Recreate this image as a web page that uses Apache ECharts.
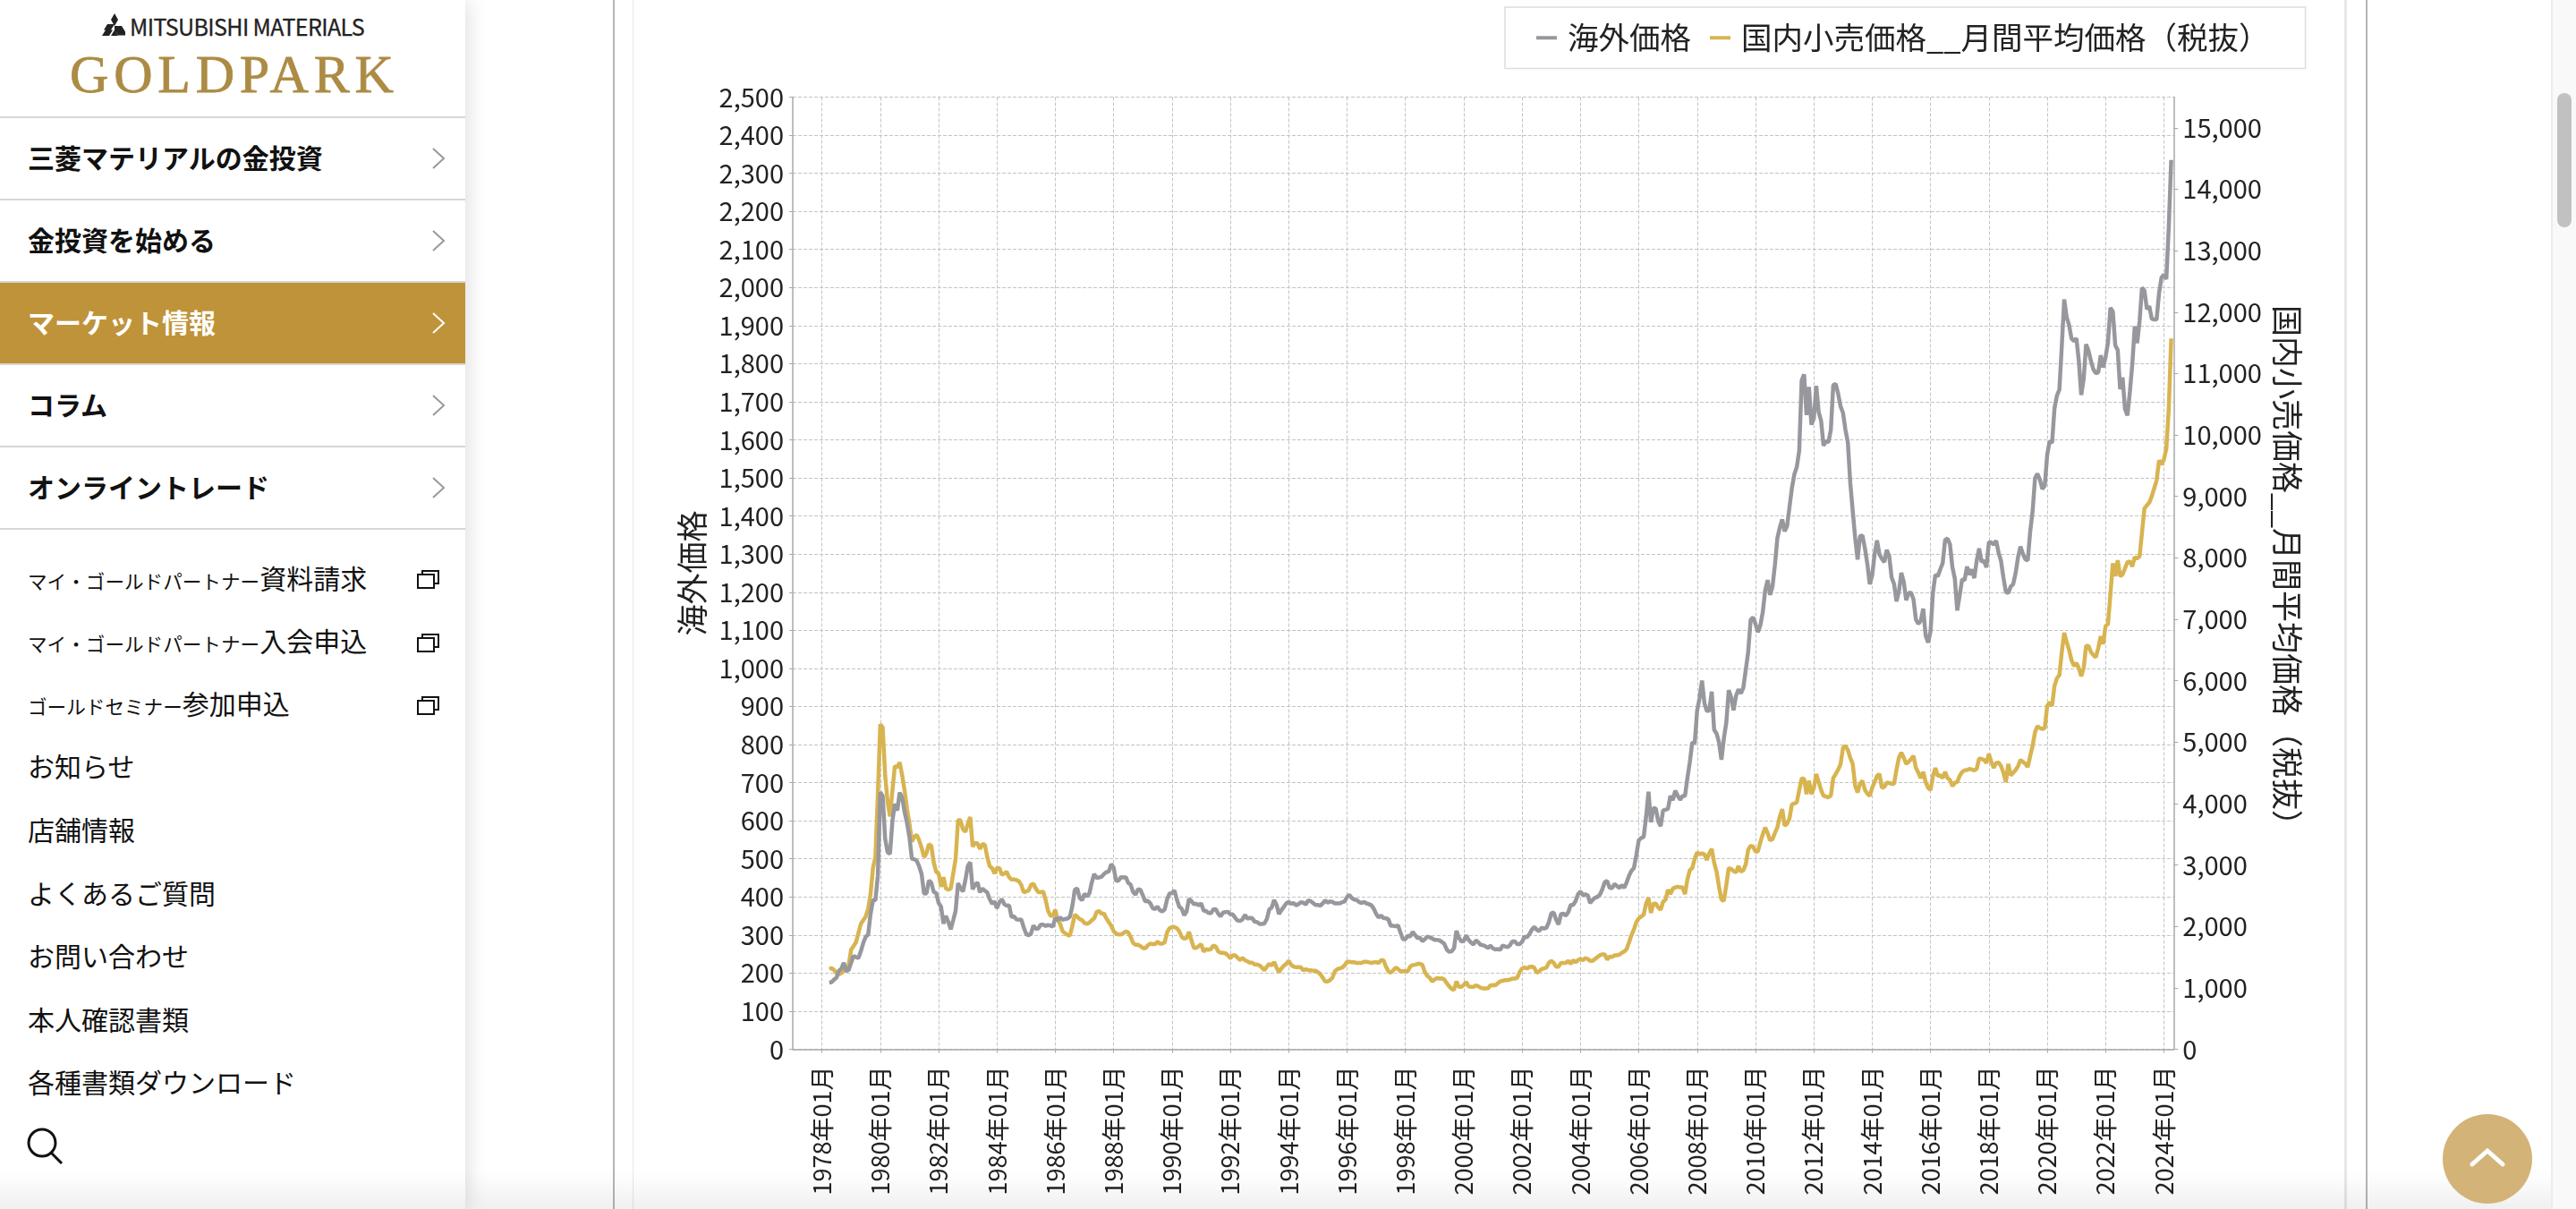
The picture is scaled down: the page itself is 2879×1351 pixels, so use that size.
<!DOCTYPE html>
<html lang="ja">
<head>
<meta charset="utf-8">
<title>金価格推移</title>
<script src="https://cdn.jsdelivr.net/npm/echarts@6/dist/echarts.min.js"></script>
<style>
  html,body{margin:0;padding:0;width:2879px;height:1351px;overflow:hidden;background:#fff;
    font-family:"Noto Sans CJK JP","Noto Sans",sans-serif;color:#111;}
  #chart{position:absolute;left:700px;top:0;width:1920px;height:1351px;}
  .vline{position:absolute;top:0;bottom:0;}
  #side{position:absolute;left:0;top:0;width:520px;height:1351px;background:#fff;box-shadow:0 0 24px rgba(0,0,0,.16);}
  .brand{position:absolute;left:145px;top:12px;font-size:25px;line-height:34px;color:#222;letter-spacing:-.6px;white-space:nowrap;-webkit-text-stroke:.3px #222;}
  .gold{position:absolute;left:78px;top:47px;font-family:"Liberation Serif",serif;font-size:60px;line-height:72px;color:#ac8b44;letter-spacing:5.8px;-webkit-text-stroke:.8px #ac8b44;}
  .row{position:absolute;left:0;width:520px;height:92px;line-height:87px;padding-left:31px;box-sizing:border-box;
    font-size:30px;font-weight:700;border-bottom:2px solid #d6d6d6;}
  .row.on{background:#bf9339;color:#fff;}
  .row svg{position:absolute;left:482px;top:33px;}
  .sub{position:absolute;left:31px;font-size:30px;line-height:40px;white-space:nowrap;}
  .sub small{font-size:21.6px;}
  .ext{position:absolute;left:466px;}
  #fade{position:absolute;left:0;right:0;bottom:0;height:42px;background:linear-gradient(rgba(0,0,0,0),rgba(0,0,0,.06));}
  #track{position:absolute;left:2851px;top:0;width:28px;height:1351px;background:#f9f9f9;border-left:2px solid #ececec;box-sizing:border-box;}
  #thumb{position:absolute;left:2858px;top:104px;width:16px;height:150px;border-radius:8px;background:#c1c1c1;}
  #totop{position:absolute;left:2730px;top:1245px;width:100px;height:100px;border-radius:50%;background:#d3b378;}
</style>
</head>
<body>
<div class="vline" style="left:685px;width:2px;background:#b5b5b5"></div>
<div class="vline" style="left:707px;width:1px;background:#e8e8e8"></div>
<div class="vline" style="left:2620px;width:3px;background:#e8e8e8"></div>
<div class="vline" style="left:2644px;width:2px;background:#b5b5b5"></div>
<div id="chart"></div>
<div id="side">
  <svg style="position:absolute;left:114px;top:15px" width="28" height="25" viewBox="0 0 28 25"><path d="M14 0l4 7-4 7-4-7zM6 12h8l-4 6.500H2zM14 14h8l4 6.500-0 4H18l-4-6zM0 25l4-6.500h8L8 25zM14 18.500L10 25h8z" fill="#222"/></svg>
  <div class="brand">MITSUBISHI MATERIALS</div>
  <div class="gold">GOLDPARK</div>
  <div style="position:absolute;left:0;top:130px;width:520px;height:2px;background:#d6d6d6"></div>
  <div class="row" style="top:132px">三菱マテリアルの金投資<svg width="16" height="24" fill="none" stroke="#999" stroke-width="2"><path d="M2 1l12 11L2 23"/></svg></div>
  <div class="row" style="top:224px">金投資を始める<svg width="16" height="24" fill="none" stroke="#999" stroke-width="2"><path d="M2 1l12 11L2 23"/></svg></div>
  <div class="row on" style="top:316px">マーケット情報<svg width="16" height="24" fill="none" stroke="#fff" stroke-width="2"><path d="M2 1l12 11L2 23"/></svg></div>
  <div class="row" style="top:408px">コラム<svg width="16" height="24" fill="none" stroke="#999" stroke-width="2"><path d="M2 1l12 11L2 23"/></svg></div>
  <div class="row" style="top:500px">オンライントレード<svg width="16" height="24" fill="none" stroke="#999" stroke-width="2"><path d="M2 1l12 11L2 23"/></svg></div>
  <div class="sub" style="top:625px"><small>マイ・ゴールドパートナー</small>資料請求</div>
  <div class="sub" style="top:695px"><small>マイ・ゴールドパートナー</small>入会申込</div>
  <div class="sub" style="top:765px"><small>ゴールドセミナー</small>参加申込</div>
  <svg class="ext" style="top:637px" width="25" height="21" fill="none" stroke="#111" stroke-width="2"><path d="M6 5V1h18v14h-5M1 5h18v15H1z"/></svg>
  <svg class="ext" style="top:708px" width="25" height="21" fill="none" stroke="#111" stroke-width="2"><path d="M6 5V1h18v14h-5M1 5h18v15H1z"/></svg>
  <svg class="ext" style="top:778px" width="25" height="21" fill="none" stroke="#111" stroke-width="2"><path d="M6 5V1h18v14h-5M1 5h18v15H1z"/></svg>
  <div class="sub" style="top:835px">お知らせ</div>
  <div class="sub" style="top:906px">店舗情報</div>
  <div class="sub" style="top:977px">よくあるご質問</div>
  <div class="sub" style="top:1047px">お問い合わせ</div>
  <div class="sub" style="top:1118px">本人確認書類</div>
  <div class="sub" style="top:1188px">各種書類ダウンロード</div>
  <svg style="position:absolute;left:29px;top:1259px" width="42" height="42" fill="none" stroke="#111" stroke-width="3"><circle cx="18" cy="18" r="15"/><path d="M28 29l12 12"/></svg>
</div>
<div id="fade"></div>
<div id="track"></div>
<div id="thumb"></div>
<div id="totop"><svg width="100" height="100" fill="none" stroke="#fff" stroke-width="5" stroke-linecap="round"><path d="M33 56l17-15 17 15"/></svg></div>
<script>
  // 1977-01 .. 2024-05 on the axis, the series start at 1978-04 and end at 2024-04
  const firstYear = 1977
  const lastYear = 2024
  const lastMonth = 5
  const leadingBlank = 15
  const overseasName = '海外価格'
  const domesticName = '国内小売価格__月間平均価格（税抜）'

  const overseas = [
    175,176,183,188,206,212,227,206,208,
    227,245,242,239,257,279,295,301,355,391,392,456,
    675,665,553,517,513,600,644,627,674,661,623,594,
    557,500,499,495,480,460,409,409,443,437,413,410,
    384,374,330,350,334,315,339,364,436,423,414,444,
    481,491,420,432,438,412,422,416,412,394,382,388,
    370,386,394,381,377,378,347,349,341,340,341,320,
    303,299,304,325,316,317,327,327,324,326,325,322,
    345,339,346,340,342,343,348,376,418,423,398,391,
    408,401,409,438,460,450,451,453,460,465,467,486,
    477,442,443,452,451,452,437,432,413,406,420,419,
    404,388,390,384,371,368,375,365,362,367,394,409,
    410,417,393,374,369,352,362,395,389,381,382,378,
    383,364,363,358,357,367,368,356,349,359,360,361,
    354,354,345,338,337,341,353,343,345,344,335,334,
    329,329,330,342,367,372,392,379,355,365,374,383,
    387,382,384,378,381,386,385,380,391,389,384,379,
    379,377,383,391,385,388,387,383,383,383,386,388,
    400,405,397,393,392,386,384,387,383,381,378,369,
    355,346,351,344,344,341,324,324,323,325,306,289,
    289,298,296,308,300,292,293,284,289,296,294,291,
    287,287,286,282,277,262,256,257,265,311,293,283,
    284,299,287,280,275,286,281,274,273,270,266,272,
    265,262,263,261,272,270,268,273,283,283,276,276,
    282,296,294,302,314,321,314,310,319,317,319,333,
    357,359,340,328,355,356,351,360,379,379,389,407,
    414,405,407,404,384,392,398,400,406,420,439,442,
    424,423,434,429,423,431,424,438,456,469,476,510,
    549,555,557,610,676,596,633,632,598,586,627,629,
    631,665,654,679,666,655,665,665,712,754,806,803,
    889,922,968,909,888,889,939,839,829,806,760,816,
    858,943,924,890,928,945,934,949,996,1043,1127,1134,
    1117,1095,1113,1148,1205,1232,1193,1215,1271,1342,1370,1391,
    1360,1374,1424,1474,1510,1529,1572,1756,1772,1665,1739,1640,
    1656,1742,1673,1650,1585,1596,1594,1626,1744,1747,1721,1688,
    1671,1627,1593,1487,1414,1343,1286,1347,1349,1316,1275,1221,
    1244,1300,1336,1299,1288,1279,1311,1295,1239,1222,1176,1202,
    1251,1227,1179,1198,1199,1181,1128,1117,1125,1157,1086,1068,
    1097,1199,1246,1242,1260,1276,1337,1341,1326,1266,1236,1152,
    1192,1234,1231,1267,1246,1260,1237,1283,1315,1280,1283,1265,
    1331,1331,1325,1335,1304,1282,1238,1201,1198,1215,1221,1250,
    1292,1320,1301,1286,1284,1359,1413,1500,1511,1495,1471,1480,
    1561,1597,1592,1683,1716,1732,1846,1969,1922,1901,1866,1859,
    1867,1808,1718,1760,1851,1834,1807,1785,1775,1777,1822,1790,
    1817,1856,1947,1937,1848,1836,1733,1764,1681,1664,1726,1798,
    1898,1854,1912,2000,1992,1943,1951,1918,1916,1916,1985,2026,
    2034,2022,2159,2335
  ]

  const domestic = [
    1310,1320,1290,1240,1220,1240,1270,1290,1370,
    1620,1680,1740,1890,2040,2100,2160,2280,2525,2950,3130,4150,
    5290,5240,4460,4035,3790,4215,4610,4590,4670,4460,4215,3915,
    3670,3380,3460,3490,3400,3280,3130,3190,3340,3310,3040,2890,
    2860,2645,2800,2615,2600,2615,2860,3100,3730,3730,3580,3540,
    3670,3780,3300,3360,3350,3260,3340,3330,3130,2980,2950,2860,
    2950,2950,2840,2860,2890,2800,2765,2765,2755,2735,2675,2555,
    2570,2585,2675,2695,2615,2555,2555,2570,2435,2255,2175,2175,
    2270,2100,2040,1920,1890,1860,1850,2010,2190,2160,2120,2100,
    2055,2040,2060,2100,2130,2235,2250,2205,2210,2130,2070,2010,
    1920,1880,1870,1870,1890,1920,1900,1830,1730,1700,1700,1680,
    1650,1640,1690,1720,1710,1710,1750,1720,1720,1740,1910,1970,
    1990,1990,1970,1920,1830,1800,1810,1910,1770,1650,1650,1680,
    1710,1590,1630,1620,1630,1690,1670,1590,1570,1570,1560,1530,
    1480,1530,1530,1490,1450,1490,1450,1430,1410,1410,1380,1380,
    1365,1330,1285,1345,1390,1365,1420,1330,1255,1315,1360,1390,
    1440,1375,1345,1335,1335,1335,1285,1305,1285,1285,1280,1280,
    1255,1225,1165,1105,1105,1125,1165,1270,1305,1315,1330,1365,
    1425,1425,1415,1415,1405,1405,1405,1425,1425,1415,1405,1415,
    1420,1405,1450,1450,1345,1270,1245,1285,1330,1305,1270,1270,
    1270,1270,1345,1370,1375,1390,1390,1375,1255,1195,1165,1105,
    1135,1160,1150,1155,1135,1075,1025,985,965,1105,1015,1015,
    1045,1095,1025,1015,1015,1040,1025,1000,990,990,995,1040,
    1045,1040,1075,1105,1115,1125,1125,1135,1150,1150,1165,1255,
    1315,1330,1315,1340,1345,1330,1245,1270,1305,1315,1330,1405,
    1440,1405,1345,1345,1405,1405,1405,1440,1390,1450,1415,1450,
    1470,1450,1485,1470,1440,1440,1470,1500,1530,1545,1545,1460,
    1510,1500,1530,1530,1540,1570,1590,1630,1740,1860,1950,2070,
    2130,2160,2190,2370,2465,2220,2370,2370,2310,2270,2400,2435,
    2595,2525,2615,2635,2645,2635,2635,2525,2765,2915,2950,3100,
    3205,3175,3190,3175,3080,3190,3260,3040,2890,2645,2435,2415,
    2675,2950,2935,2900,2880,2980,2890,2915,3010,3250,3310,3300,
    3220,3220,3370,3500,3610,3520,3400,3420,3520,3610,3790,3910,
    3640,3670,3760,3985,4000,4020,4215,4410,4400,4155,4370,4155,
    4250,4480,4350,4220,4125,4115,4100,4130,4415,4480,4550,4640,
    4905,4940,4870,4745,4645,4290,4180,4320,4370,4225,4160,4125,
    4255,4350,4450,4480,4255,4270,4340,4335,4320,4320,4550,4745,
    4830,4745,4645,4680,4725,4775,4580,4500,4415,4515,4350,4255,
    4220,4450,4580,4450,4460,4415,4515,4415,4385,4285,4340,4350,
    4450,4515,4540,4545,4565,4555,4540,4565,4735,4725,4710,4660,
    4810,4680,4580,4660,4670,4610,4500,4350,4645,4460,4500,4545,
    4610,4710,4680,4645,4595,4775,4940,5165,5260,5230,5210,5230,
    5590,5650,5590,5915,6040,6090,6465,6780,6630,6500,6335,6240,
    6285,6205,6075,6205,6565,6565,6465,6415,6380,6530,6725,6595,
    6890,6920,7410,7910,7700,7960,7700,7730,7830,7930,7940,7860,
    8010,7990,8025,8415,8805,8855,8900,9000,9130,9260,9585,9520,
    9600,9780,10430,11570
  ]

  const months = []
  for (let y = firstYear; y <= lastYear; y++) {
    for (let m = 1; m <= 12; m++) {
      if (y === lastYear && m > lastMonth) break
      months.push(y + '年' + String(m).padStart(2, '0') + '月')
    }
  }

  const blanks = new Array(leadingBlank).fill(null)
  // a tick every second January, counted from 1978
  const everyTwoYears = function (index) {
    return index % 24 === 12
  }
  const thousands = function (v) {
    return v.toLocaleString('en-US')
  }
  const font = '"Noto Sans CJK JP","Noto Sans",sans-serif'
  const axisGray = '#a8a8a8'
  const gridLine = { show: true, lineStyle: { color: '#c4c4c4', type: 'dashed', width: 1 } }

  const myChart = echarts.init(document.getElementById('chart'), null, { renderer: 'canvas' })
  myChart.setOption({
    animation: false,
    textStyle: { fontFamily: font },
    legend: {
      left: 982,
      top: 8,
      padding: [17, 40, 17, 35],
      borderColor: '#dddddd',
      borderWidth: 1.5,
      itemWidth: 23,
      itemHeight: 4,
      itemGap: 21,
      icon: 'rect',
      textStyle: { fontFamily: font, fontSize: 34.5, color: '#222', padding: [0, 0, 0, 7] },
      data: [overseasName, domesticName]
    },
    grid: { left: 186, top: 108.5, width: 1543.3, height: 1064 },
    xAxis: [{
      type: 'category',
      data: months,
      boundaryGap: false,
      axisLine: { lineStyle: { color: axisGray, width: 1.5 } },
      axisTick: { length: 4, interval: everyTwoYears, lineStyle: { color: axisGray } },
      axisLabel: {
        interval: everyTwoYears,
        rotate: 90,
        margin: 19,
        fontSize: 27,
        color: '#222',
        fontFamily: font
      },
      splitLine: { show: true, interval: everyTwoYears, lineStyle: gridLine.lineStyle }
    }],
    yAxis: [{
      type: 'value',
      name: overseasName,
      nameLocation: 'middle',
      nameGap: 95,
      nameTextStyle: { fontSize: 35, color: '#222', fontFamily: font },
      min: 0,
      max: 2500,
      interval: 100,
      axisLine: { show: true, lineStyle: { color: axisGray, width: 1.5 } },
      axisTick: { show: true, length: 4, lineStyle: { color: axisGray } },
      axisLabel: { margin: 10, fontSize: 29, color: '#222', fontFamily: font, formatter: thousands },
      splitLine: gridLine
    }, {
      type: 'value',
      position: 'right',
      name: domesticName,
      nameLocation: 'middle',
      nameGap: 108,
      nameRotate: -90,
      nameTextStyle: { fontSize: 35, color: '#222', fontFamily: font },
      min: 0,
      max: 15500,
      interval: 1000,
      axisLine: { show: true, lineStyle: { color: axisGray, width: 1.5 } },
      axisTick: { show: true, length: 5, lineStyle: { color: axisGray } },
      axisLabel: { margin: 10, fontSize: 29, color: '#222', fontFamily: font, showMaxLabel: false, formatter: thousands },
      splitLine: { show: false }
    }],
    series: [{
      name: overseasName,
      type: 'line',
      yAxisIndex: 0,
      z: 3,
      showSymbol: false,
      color: '#97989d',
      lineStyle: { width: 4.5, color: '#97989d' },
      data: blanks.concat(overseas)
    }, {
      name: domesticName,
      type: 'line',
      yAxisIndex: 1,
      z: 2,
      showSymbol: false,
      color: '#d8b451',
      lineStyle: { width: 4.5, color: '#d8b451' },
      data: blanks.concat(domestic)
    }]
  })
</script>
</body>
</html>
